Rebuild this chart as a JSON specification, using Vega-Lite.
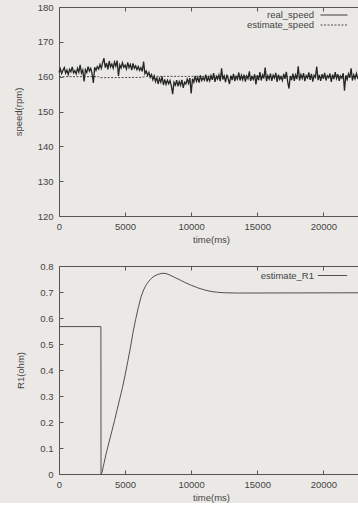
{
  "$schema": "https://vega.github.io/schema/vega-lite/v6.json",
  "background": "#ebe9e6",
  "padding": {"left": 12, "top": 1, "right": 0, "bottom": 0},
  "spacing": 50,
  "bounds": "flush",
  "config": {
    "view": {"stroke": "#555555", "strokeWidth": 1},
    "axis": {"labelFont": "Liberation Sans", "labelFontSize": 9.5, "labelColor": "#444444", "titleFont": "Liberation Sans", "titleFontSize": 9.5, "titleFontWeight": "normal", "titleColor": "#444444", "domain": false, "tickColor": "#555555", "grid": false, "tickSize": -4, "labelFlush": false, "labelOverlap": false},
    "legend": {"labelFont": "Liberation Sans", "labelFontSize": 9.5, "labelColor": "#444444"},
    "line": {"strokeWidth": 1}
  },
  "datasets": {
    "speed": [
      {"t":0,"v":161.2,"s":"real_speed"},{"t":100,"v":162.3,"s":"real_speed"},{"t":200,"v":160.9,"s":"real_speed"},{"t":300,"v":161.8,"s":"real_speed"},{"t":400,"v":162.6,"s":"real_speed"},{"t":500,"v":161.0,"s":"real_speed"},{"t":600,"v":161.9,"s":"real_speed"},{"t":700,"v":160.6,"s":"real_speed"},{"t":800,"v":162.1,"s":"real_speed"},{"t":900,"v":161.4,"s":"real_speed"},
      {"t":1000,"v":162.8,"s":"real_speed"},{"t":1100,"v":161.1,"s":"real_speed"},{"t":1200,"v":161.7,"s":"real_speed"},{"t":1300,"v":160.8,"s":"real_speed"},{"t":1400,"v":162.4,"s":"real_speed"},{"t":1500,"v":161.3,"s":"real_speed"},{"t":1600,"v":163.4,"s":"real_speed"},{"t":1700,"v":161.0,"s":"real_speed"},{"t":1800,"v":161.9,"s":"real_speed"},{"t":1900,"v":158.6,"s":"real_speed"},
      {"t":2000,"v":162.0,"s":"real_speed"},{"t":2100,"v":161.2,"s":"real_speed"},{"t":2200,"v":162.9,"s":"real_speed"},{"t":2300,"v":161.6,"s":"real_speed"},{"t":2400,"v":162.4,"s":"real_speed"},{"t":2500,"v":161.0,"s":"real_speed"},{"t":2600,"v":158.2,"s":"real_speed"},{"t":2700,"v":162.7,"s":"real_speed"},{"t":2800,"v":161.8,"s":"real_speed"},{"t":2900,"v":162.9,"s":"real_speed"},
      {"t":3000,"v":162.2,"s":"real_speed"},{"t":3100,"v":163.5,"s":"real_speed"},{"t":3200,"v":162.4,"s":"real_speed"},{"t":3300,"v":164.0,"s":"real_speed"},{"t":3400,"v":165.3,"s":"real_speed"},{"t":3500,"v":162.6,"s":"real_speed"},{"t":3600,"v":163.9,"s":"real_speed"},{"t":3700,"v":162.1,"s":"real_speed"},{"t":3800,"v":164.5,"s":"real_speed"},{"t":3900,"v":162.8,"s":"real_speed"},
      {"t":4000,"v":163.6,"s":"real_speed"},{"t":4100,"v":162.4,"s":"real_speed"},{"t":4200,"v":164.2,"s":"real_speed"},{"t":4300,"v":163.0,"s":"real_speed"},{"t":4400,"v":164.6,"s":"real_speed"},{"t":4500,"v":160.2,"s":"real_speed"},{"t":4600,"v":163.4,"s":"real_speed"},{"t":4700,"v":162.5,"s":"real_speed"},{"t":4800,"v":164.0,"s":"real_speed"},{"t":4900,"v":162.7,"s":"real_speed"},
      {"t":5000,"v":163.3,"s":"real_speed"},{"t":5100,"v":162.2,"s":"real_speed"},{"t":5200,"v":164.1,"s":"real_speed"},{"t":5300,"v":162.6,"s":"real_speed"},{"t":5400,"v":163.5,"s":"real_speed"},{"t":5500,"v":161.9,"s":"real_speed"},{"t":5600,"v":163.8,"s":"real_speed"},{"t":5700,"v":162.4,"s":"real_speed"},{"t":5800,"v":163.1,"s":"real_speed"},{"t":5900,"v":162.0,"s":"real_speed"},
      {"t":6000,"v":162.9,"s":"real_speed"},{"t":6100,"v":161.8,"s":"real_speed"},{"t":6200,"v":162.6,"s":"real_speed"},{"t":6300,"v":161.5,"s":"real_speed"},{"t":6400,"v":164.3,"s":"real_speed"},{"t":6500,"v":160.9,"s":"real_speed"},{"t":6600,"v":161.6,"s":"real_speed"},{"t":6700,"v":160.4,"s":"real_speed"},{"t":6800,"v":161.2,"s":"real_speed"},{"t":6900,"v":159.8,"s":"real_speed"},
      {"t":7000,"v":160.6,"s":"real_speed"},{"t":7100,"v":159.1,"s":"real_speed"},{"t":7200,"v":160.2,"s":"real_speed"},{"t":7300,"v":158.6,"s":"real_speed"},{"t":7400,"v":159.8,"s":"real_speed"},{"t":7500,"v":157.9,"s":"real_speed"},{"t":7600,"v":159.5,"s":"real_speed"},{"t":7700,"v":158.4,"s":"real_speed"},{"t":7800,"v":160.1,"s":"real_speed"},{"t":7900,"v":157.6,"s":"real_speed"},
      {"t":8000,"v":159.2,"s":"real_speed"},{"t":8100,"v":157.8,"s":"real_speed"},{"t":8200,"v":159.0,"s":"real_speed"},{"t":8300,"v":158.0,"s":"real_speed"},{"t":8400,"v":158.9,"s":"real_speed"},{"t":8500,"v":157.3,"s":"real_speed"},{"t":8600,"v":155.0,"s":"real_speed"},{"t":8700,"v":158.4,"s":"real_speed"},{"t":8800,"v":157.6,"s":"real_speed"},{"t":8900,"v":159.0,"s":"real_speed"},
      {"t":9000,"v":157.2,"s":"real_speed"},{"t":9100,"v":158.6,"s":"real_speed"},{"t":9200,"v":157.5,"s":"real_speed"},{"t":9300,"v":159.1,"s":"real_speed"},{"t":9400,"v":156.8,"s":"real_speed"},{"t":9500,"v":158.4,"s":"real_speed"},{"t":9600,"v":157.9,"s":"real_speed"},{"t":9700,"v":159.3,"s":"real_speed"},{"t":9800,"v":158.1,"s":"real_speed"},{"t":9900,"v":159.6,"s":"real_speed"},
      {"t":10000,"v":155.2,"s":"real_speed"},{"t":10100,"v":159.4,"s":"real_speed"},{"t":10200,"v":158.4,"s":"real_speed"},{"t":10300,"v":160.2,"s":"real_speed"},{"t":10400,"v":158.7,"s":"real_speed"},{"t":10500,"v":159.8,"s":"real_speed"},{"t":10600,"v":158.3,"s":"real_speed"},{"t":10700,"v":160.4,"s":"real_speed"},{"t":10800,"v":158.9,"s":"real_speed"},{"t":10900,"v":159.7,"s":"real_speed"},
      {"t":11000,"v":159.0,"s":"real_speed"},{"t":11100,"v":160.6,"s":"real_speed"},{"t":11200,"v":158.6,"s":"real_speed"},{"t":11300,"v":159.9,"s":"real_speed"},{"t":11400,"v":158.8,"s":"real_speed"},{"t":11500,"v":160.3,"s":"real_speed"},{"t":11600,"v":159.1,"s":"real_speed"},{"t":11700,"v":161.0,"s":"real_speed"},{"t":11800,"v":158.5,"s":"real_speed"},{"t":11900,"v":160.1,"s":"real_speed"},
      {"t":12000,"v":159.3,"s":"real_speed"},{"t":12100,"v":160.5,"s":"real_speed"},{"t":12200,"v":158.7,"s":"real_speed"},{"t":12300,"v":162.4,"s":"real_speed"},{"t":12400,"v":159.2,"s":"real_speed"},{"t":12500,"v":160.2,"s":"real_speed"},{"t":12600,"v":158.4,"s":"real_speed"},{"t":12700,"v":160.6,"s":"real_speed"},{"t":12800,"v":159.4,"s":"real_speed"},{"t":12900,"v":157.9,"s":"real_speed"},
      {"t":13000,"v":160.3,"s":"real_speed"},{"t":13100,"v":159.0,"s":"real_speed"},{"t":13200,"v":160.8,"s":"real_speed"},{"t":13300,"v":158.7,"s":"real_speed"},{"t":13400,"v":160.1,"s":"real_speed"},{"t":13500,"v":159.3,"s":"real_speed"},{"t":13600,"v":161.2,"s":"real_speed"},{"t":13700,"v":158.9,"s":"real_speed"},{"t":13800,"v":160.4,"s":"real_speed"},{"t":13900,"v":159.1,"s":"real_speed"},
      {"t":14000,"v":160.6,"s":"real_speed"},{"t":14100,"v":158.6,"s":"real_speed"},{"t":14200,"v":160.2,"s":"real_speed"},{"t":14300,"v":159.4,"s":"real_speed"},{"t":14400,"v":161.5,"s":"real_speed"},{"t":14500,"v":158.8,"s":"real_speed"},{"t":14600,"v":160.0,"s":"real_speed"},{"t":14700,"v":159.2,"s":"real_speed"},{"t":14800,"v":160.7,"s":"real_speed"},{"t":14900,"v":157.8,"s":"real_speed"},
      {"t":15000,"v":160.4,"s":"real_speed"},{"t":15100,"v":159.0,"s":"real_speed"},{"t":15200,"v":161.3,"s":"real_speed"},{"t":15300,"v":158.9,"s":"real_speed"},{"t":15400,"v":160.5,"s":"real_speed"},{"t":15500,"v":159.5,"s":"real_speed"},{"t":15600,"v":162.6,"s":"real_speed"},{"t":15700,"v":158.7,"s":"real_speed"},{"t":15800,"v":160.3,"s":"real_speed"},{"t":15900,"v":159.3,"s":"real_speed"},
      {"t":16000,"v":160.9,"s":"real_speed"},{"t":16100,"v":158.8,"s":"real_speed"},{"t":16200,"v":160.4,"s":"real_speed"},{"t":16300,"v":159.6,"s":"real_speed"},{"t":16400,"v":161.1,"s":"real_speed"},{"t":16500,"v":158.5,"s":"real_speed"},{"t":16600,"v":160.6,"s":"real_speed"},{"t":16700,"v":159.2,"s":"real_speed"},{"t":16800,"v":160.0,"s":"real_speed"},{"t":16900,"v":158.9,"s":"real_speed"},
      {"t":17000,"v":160.8,"s":"real_speed"},{"t":17100,"v":159.4,"s":"real_speed"},{"t":17200,"v":161.4,"s":"real_speed"},{"t":17300,"v":158.6,"s":"real_speed"},{"t":17400,"v":156.6,"s":"real_speed"},{"t":17500,"v":160.2,"s":"real_speed"},{"t":17600,"v":159.0,"s":"real_speed"},{"t":17700,"v":160.9,"s":"real_speed"},{"t":17800,"v":158.8,"s":"real_speed"},{"t":17900,"v":160.5,"s":"real_speed"},
      {"t":18000,"v":159.3,"s":"real_speed"},{"t":18100,"v":163.0,"s":"real_speed"},{"t":18200,"v":158.9,"s":"real_speed"},{"t":18300,"v":160.6,"s":"real_speed"},{"t":18400,"v":159.5,"s":"real_speed"},{"t":18500,"v":161.0,"s":"real_speed"},{"t":18600,"v":158.7,"s":"real_speed"},{"t":18700,"v":160.3,"s":"real_speed"},{"t":18800,"v":159.6,"s":"real_speed"},{"t":18900,"v":161.2,"s":"real_speed"},
      {"t":19000,"v":159.1,"s":"real_speed"},{"t":19100,"v":160.8,"s":"real_speed"},{"t":19200,"v":158.6,"s":"real_speed"},{"t":19300,"v":160.4,"s":"real_speed"},{"t":19400,"v":159.8,"s":"real_speed"},{"t":19500,"v":162.9,"s":"real_speed"},{"t":19600,"v":159.0,"s":"real_speed"},{"t":19700,"v":160.5,"s":"real_speed"},{"t":19800,"v":158.8,"s":"real_speed"},{"t":19900,"v":160.7,"s":"real_speed"},
      {"t":20000,"v":159.4,"s":"real_speed"},{"t":20100,"v":161.1,"s":"real_speed"},{"t":20200,"v":158.9,"s":"real_speed"},{"t":20300,"v":160.3,"s":"real_speed"},{"t":20400,"v":159.7,"s":"real_speed"},{"t":20500,"v":160.9,"s":"real_speed"},{"t":20600,"v":158.5,"s":"real_speed"},{"t":20700,"v":160.6,"s":"real_speed"},{"t":20800,"v":159.3,"s":"real_speed"},{"t":20900,"v":161.3,"s":"real_speed"},
      {"t":21000,"v":159.5,"s":"real_speed"},{"t":21100,"v":160.7,"s":"real_speed"},{"t":21200,"v":158.8,"s":"real_speed"},{"t":21300,"v":160.2,"s":"real_speed"},{"t":21400,"v":159.6,"s":"real_speed"},{"t":21500,"v":161.0,"s":"real_speed"},{"t":21600,"v":156.0,"s":"real_speed"},{"t":21700,"v":160.4,"s":"real_speed"},{"t":21800,"v":159.2,"s":"real_speed"},{"t":21900,"v":160.8,"s":"real_speed"},
      {"t":22000,"v":159.7,"s":"real_speed"},{"t":22100,"v":162.4,"s":"real_speed"},{"t":22200,"v":158.9,"s":"real_speed"},{"t":22300,"v":160.5,"s":"real_speed"},{"t":22400,"v":159.4,"s":"real_speed"},{"t":22500,"v":160.9,"s":"real_speed"},{"t":22600,"v":159.6,"s":"real_speed"},{"t":22700,"v":160.2,"s":"real_speed"},{"t":22800,"v":159.1,"s":"real_speed"},{"t":22900,"v":160.6,"s":"real_speed"},{"t":23000,"v":159.8,"s":"real_speed"},
      {"t":0,"v":160.0,"s":"estimate_speed"},{"t":3000,"v":160.0,"s":"estimate_speed"},{"t":3100,"v":159.7,"s":"estimate_speed"},{"t":6200,"v":159.8,"s":"estimate_speed"},{"t":6700,"v":160.1,"s":"estimate_speed"},{"t":23000,"v":160.0,"s":"estimate_speed"}
    ],
    "r1": [
      {"t":0,"v":0.567,"s":"estimate_R1"},{"t":3170,"v":0.567,"s":"estimate_R1"},{"t":3180,"v":0.0,"s":"estimate_R1"},{"t":3250,"v":0.005,"s":"estimate_R1"},{"t":3400,"v":0.04,"s":"estimate_R1"},{"t":3550,"v":0.075,"s":"estimate_R1"},{"t":3800,"v":0.125,"s":"estimate_R1"},{"t":4000,"v":0.165,"s":"estimate_R1"},{"t":4200,"v":0.205,"s":"estimate_R1"},{"t":4400,"v":0.248,"s":"estimate_R1"},{"t":4600,"v":0.29,"s":"estimate_R1"},{"t":4800,"v":0.332,"s":"estimate_R1"},{"t":5000,"v":0.38,"s":"estimate_R1"},{"t":5200,"v":0.432,"s":"estimate_R1"},{"t":5400,"v":0.485,"s":"estimate_R1"},{"t":5600,"v":0.545,"s":"estimate_R1"},{"t":5800,"v":0.595,"s":"estimate_R1"},{"t":6000,"v":0.64,"s":"estimate_R1"},{"t":6200,"v":0.68,"s":"estimate_R1"},{"t":6400,"v":0.708,"s":"estimate_R1"},{"t":6600,"v":0.728,"s":"estimate_R1"},{"t":6800,"v":0.742,"s":"estimate_R1"},{"t":7000,"v":0.753,"s":"estimate_R1"},{"t":7200,"v":0.761,"s":"estimate_R1"},{"t":7500,"v":0.768,"s":"estimate_R1"},{"t":7800,"v":0.772,"s":"estimate_R1"},{"t":8100,"v":0.771,"s":"estimate_R1"},{"t":8400,"v":0.765,"s":"estimate_R1"},{"t":8800,"v":0.755,"s":"estimate_R1"},{"t":9200,"v":0.745,"s":"estimate_R1"},{"t":9600,"v":0.735,"s":"estimate_R1"},{"t":10000,"v":0.726,"s":"estimate_R1"},{"t":10500,"v":0.716,"s":"estimate_R1"},{"t":11000,"v":0.708,"s":"estimate_R1"},{"t":11500,"v":0.702,"s":"estimate_R1"},{"t":12000,"v":0.699,"s":"estimate_R1"},{"t":12500,"v":0.697,"s":"estimate_R1"},{"t":13500,"v":0.696,"s":"estimate_R1"},{"t":23000,"v":0.697,"s":"estimate_R1"}
    ]
  },
  "vconcat": [
    {
      "width": 304,
      "height": 209,
      "data": {"name": "speed"},
      "layer": [
        {
          "transform": [{"filter": "datum.s == 'estimate_speed'"}],
          "mark": {"type": "line", "strokeWidth": 1},
          "encoding": {
            "x": {"field": "t", "type": "quantitative", "scale": {"domain": [0, 23000], "nice": false}, "axis": {"orient": "top", "title": null, "labels": false, "values": [0, 5000, 10000, 15000, 20000]}},
            "y": {"field": "v", "type": "quantitative", "scale": {"domain": [120, 180], "nice": false, "zero": false}, "axis": {"title": "speed(rpm)", "values": [120, 130, 140, 150, 160, 170, 180], "labelPadding": 10, "titlePadding": 14}},
            "color": {"field": "s", "type": "nominal", "scale": {"domain": ["real_speed", "estimate_speed"], "range": ["#262626", "#4a4a4a"]}, "legend": {"orient": "none", "legendX": 270, "legendY": 3, "title": null, "symbolType": "M-3,0H3", "symbolSize": 81, "symbolStrokeWidth": 1, "labelAlign": "right", "labelOffset": -25, "rowPadding": 0, "padding": 0}},
            "strokeDash": {"field": "s", "type": "nominal", "scale": {"domain": ["real_speed", "estimate_speed"], "range": [[1, 0], [2, 1.5]]}, "legend": {"orient": "none", "legendX": 270, "legendY": 3, "title": null, "symbolType": "M-3,0H3", "symbolSize": 81, "symbolStrokeWidth": 1, "labelAlign": "right", "labelOffset": -25, "rowPadding": 0, "padding": 0}}
          }
        },
        {
          "transform": [{"filter": "datum.s == 'real_speed'"}],
          "mark": {"type": "line", "strokeWidth": 1.3},
          "encoding": {
            "x": {"field": "t", "type": "quantitative", "axis": {"orient": "bottom", "title": "time(ms)", "values": [0, 5000, 10000, 15000, 20000], "format": "d", "labelPadding": 9, "titlePadding": 4}},
            "y": {"field": "v", "type": "quantitative", "axis": {"title": "speed(rpm)", "values": [120, 130, 140, 150, 160, 170, 180], "labelPadding": 10, "titlePadding": 14}},
            "color": {"field": "s", "type": "nominal"},
            "strokeDash": {"field": "s", "type": "nominal"}
          }
        }
      ],
      "resolve": {"axis": {"x": "independent"}}
    },
    {
      "width": 304,
      "height": 208,
      "data": {"name": "r1"},
      "layer": [
        {
          "mark": {"type": "line", "strokeWidth": 1},
          "encoding": {
            "x": {"field": "t", "type": "quantitative", "scale": {"domain": [0, 23000], "nice": false}, "axis": {"orient": "bottom", "title": "time(ms)", "values": [0, 5000, 10000, 15000, 20000], "format": "d", "labelPadding": 9, "titlePadding": 4}},
            "y": {"field": "v", "type": "quantitative", "scale": {"domain": [0, 0.8], "nice": false}, "axis": {"title": "R1(ohm)", "values": [0, 0.1, 0.2, 0.3, 0.4, 0.5, 0.6, 0.7, 0.8], "format": "~g", "labelPadding": 10, "titlePadding": 14}},
            "color": {"field": "s", "type": "nominal", "scale": {"domain": ["estimate_R1"], "range": ["#505050"]}, "legend": {"orient": "none", "legendX": 268, "legendY": 4, "title": null, "symbolType": "M-3,0H3", "symbolSize": 96, "symbolStrokeWidth": 1, "labelAlign": "right", "labelOffset": -24, "padding": 0}}
          }
        },
        {
          "mark": {"type": "line", "strokeWidth": 1, "opacity": 0},
          "encoding": {
            "x": {"field": "t", "type": "quantitative", "axis": {"orient": "top", "title": null, "labels": false, "values": [0, 5000, 10000, 15000, 20000]}},
            "y": {"field": "v", "type": "quantitative", "axis": {"title": "R1(ohm)", "values": [0, 0.1, 0.2, 0.3, 0.4, 0.5, 0.6, 0.7, 0.8], "format": "~g", "labelPadding": 10, "titlePadding": 14}}
          }
        }
      ],
      "resolve": {"axis": {"x": "independent"}}
    }
  ],
  "resolve": {"scale": {"color": "independent", "strokeDash": "independent"}, "legend": {"color": "independent", "strokeDash": "independent"}}
}
